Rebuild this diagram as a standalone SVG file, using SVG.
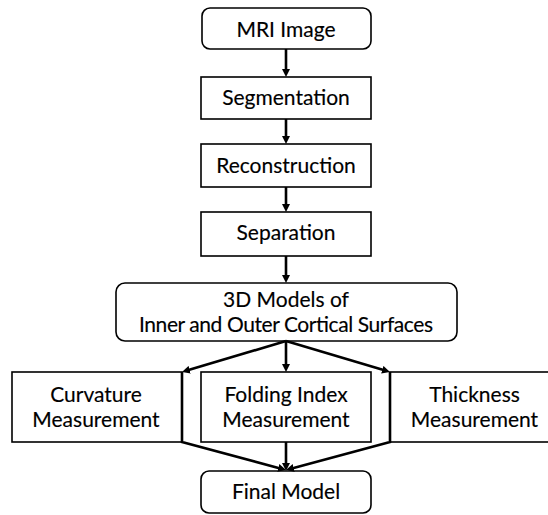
<svg xmlns="http://www.w3.org/2000/svg" width="548" height="515" viewBox="0 0 548 515">
  <style>
    .box { fill: #ffffff; stroke: #000000; stroke-width: 1.6; }
    .lbl { font-family: "Lato", "Liberation Sans", sans-serif; font-size: 21px; fill: #000000; stroke: #000000; stroke-width: 0.15; text-anchor: middle; }
    .edge { fill: none; stroke: #000000; stroke-width: 2.6; stroke-linejoin: miter; }
  </style>
  <defs>
    <marker id="arrow" markerUnits="userSpaceOnUse" viewBox="0 0 8 8" refX="3" refY="4" markerWidth="8" markerHeight="8" orient="auto">
      <path d="M0,0 L8,4 L0,8 z" fill="#000000"/>
    </marker>
  </defs>
  <rect width="548" height="515" fill="#ffffff"/>

  <!-- processing pipeline -->
  <g id="mri-image">
    <rect class="box" x="202" y="8" width="169" height="41" rx="8"/>
    <text class="lbl" x="286" y="36.5">MRI Image</text>
  </g>
  <g id="segmentation">
    <rect class="box" x="201" y="77" width="170" height="42"/>
    <text class="lbl" x="286" y="105">Segmentation</text>
  </g>
  <g id="reconstruction">
    <rect class="box" x="201" y="144" width="170" height="43"/>
    <text class="lbl" x="286" y="173">Reconstruction</text>
  </g>
  <g id="separation">
    <rect class="box" x="201" y="212" width="170" height="44"/>
    <text class="lbl" x="286" y="240">Separation</text>
  </g>
  <g id="surface-models">
    <rect class="box" x="116" y="283" width="341" height="58" rx="9"/>
    <text class="lbl" x="286" y="306.5">3D Models of</text>
    <text class="lbl" x="286" y="331.5" textLength="294" lengthAdjust="spacing">Inner and Outer Cortical Surfaces</text>
  </g>

  <!-- measurements -->
  <g id="curvature">
    <rect class="box" x="12" y="372" width="170" height="70"/>
    <text class="lbl" x="96" y="401.5">Curvature</text>
    <text class="lbl" x="96" y="426.5">Measurement</text>
  </g>
  <g id="folding-index">
    <rect class="box" x="201" y="372" width="170" height="70"/>
    <text class="lbl" x="286" y="401.5">Folding Index</text>
    <text class="lbl" x="286" y="426.5">Measurement</text>
  </g>
  <g id="thickness">
    <rect class="box" x="390" y="372" width="170" height="70"/>
    <text class="lbl" x="474.5" y="401.5">Thickness</text>
    <text class="lbl" x="474.5" y="426.5">Measurement</text>
  </g>

  <g id="final-model">
    <rect class="box" x="201" y="471" width="170" height="42" rx="8"/>
    <text class="lbl" x="286" y="498.5">Final Model</text>
  </g>

  <!-- connectors -->
  <g id="connectors">
    <path class="edge" d="M286,49 L286,72" marker-end="url(#arrow)"/>
    <path class="edge" d="M286,119 L286,139" marker-end="url(#arrow)"/>
    <path class="edge" d="M286,187 L286,207" marker-end="url(#arrow)"/>
    <path class="edge" d="M286,256 L286,278" marker-end="url(#arrow)"/>
    <path class="edge" d="M286,341 L186.8,370.6" marker-end="url(#arrow)"/>
    <path class="edge" d="M286,341 L286,367" marker-end="url(#arrow)"/>
    <path class="edge" d="M286,341 L385.2,370.6" marker-end="url(#arrow)"/>
    <path class="edge" d="M182,372 L182,442 L281.2,468.7" marker-end="url(#arrow)"/>
    <path class="edge" d="M286,442 L286,466" marker-end="url(#arrow)"/>
    <path class="edge" d="M390,372 L390,442 L290.8,468.7" marker-end="url(#arrow)"/>
  </g>
</svg>
